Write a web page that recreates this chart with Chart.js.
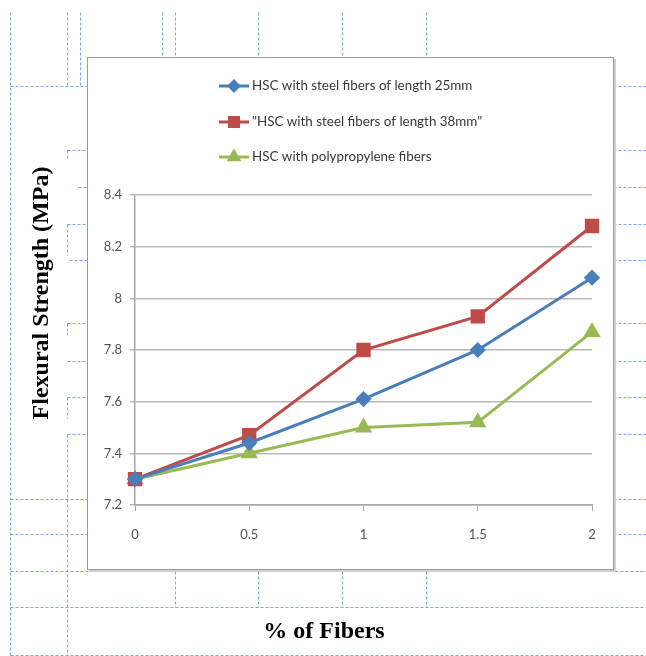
<!DOCTYPE html>
<html>
<head>
<meta charset="utf-8">
<title>Flexural Strength vs % of Fibers</title>
<script src="https://cdn.jsdelivr.net/npm/chart.js@4.4.0/dist/chart.umd.min.js"></script>
<style>
  html, body { margin: 0; padding: 0; background: #fff; }
  #wrap { position: relative; width: 646px; height: 656px; }
</style>
</head>
<body>
<div id="wrap"><canvas id="chart" width="646" height="656"></canvas></div>
<script>
// chart values
const fiberPercent = ['0', '0.5', '1', '1.5', '2'];
const steel25 = [7.30, 7.44, 7.61, 7.80, 8.08];
const steel38 = [7.30, 7.47, 7.80, 7.93, 8.28];
const polyFibers = [7.30, 7.40, 7.50, 7.52, 7.87];
const seriesNames = [
  'HSC with steel fibers of length 25mm',
  '"HSC with steel fibers of length 38mm"',
  'HSC with polypropylene fibers'
];
const yMin = 7.2, yMax = 8.4, yStep = 0.2;
const yTitle = 'Flexural Strength (MPa)';
const xTitle = '% of Fibers';

const tickFont = { family: 'Lato', size: 13 };
const tickColor = '#555555';
const axisGray = '#a6a6a6';

// the dashed blue lines of the word table behind the chart
const tableLines = [
  [10, 12, 10, 656], [67, 12, 67, 86], [80, 12, 80, 86], [10, 86, 87, 86],
  [162, 12, 162, 57], [175, 12, 175, 57], [258, 12, 258, 57], [342, 12, 342, 57], [426, 12, 426, 57],
  [613, 86, 646, 86], [613, 150, 646, 150], [613, 187, 646, 187], [613, 224, 646, 224],
  [613, 260, 646, 260], [613, 323, 646, 323], [613, 361, 646, 361], [613, 397, 646, 397],
  [613, 434, 646, 434], [613, 499, 646, 499], [613, 534, 646, 534],
  [67, 150, 87, 150], [67, 150, 67, 158], [78, 187, 87, 187], [67, 224, 87, 224], [67, 224, 67, 255],
  [69, 260, 87, 260], [67, 323, 87, 323], [67, 323, 67, 335], [67, 361, 87, 361],
  [67, 397, 87, 397], [67, 397, 67, 418], [67, 434, 87, 434], [67, 434, 67, 656],
  [10, 499, 87, 499], [10, 534, 87, 534],
  [10, 571, 646, 571], [10, 607, 646, 607], [10, 655, 646, 655],
  [175, 571, 175, 607], [258, 571, 258, 607], [342, 571, 342, 607], [426, 571, 426, 607]
];

const pageDecor = {
  id: 'pageDecor',
  beforeDraw(chart) {
    const ctx = chart.ctx;
    ctx.save();
    ctx.fillStyle = '#ffffff';
    ctx.fillRect(0, 0, chart.width, chart.height);

    ctx.strokeStyle = '#7aa7ea';
    ctx.lineWidth = 1;
    ctx.setLineDash([3, 2]);
    tableLines.forEach(l => {
      ctx.beginPath();
      ctx.moveTo(l[0] + 0.5, l[1] + 0.5);
      ctx.lineTo(l[2] + 0.5, l[3] + 0.5);
      ctx.stroke();
    });
    ctx.setLineDash([]);

    // chart frame with a soft shadow
    ctx.fillStyle = '#d0d0d0';
    ctx.fillRect(89, 59, 527, 513);
    ctx.fillStyle = '#ffffff';
    ctx.fillRect(87, 57, 526, 512);
    ctx.strokeStyle = '#9a9a9a';
    ctx.strokeRect(87.5, 57.5, 526, 512);
    ctx.restore();
  },
  afterDraw(chart) {
    const ctx = chart.ctx;
    ctx.save();

    // legend, one entry per row
    const rows = [86, 122, 157];
    chart.data.datasets.forEach((ds, i) => {
      const y = rows[i];
      ctx.strokeStyle = ds.borderColor;
      ctx.lineWidth = 3;
      ctx.beginPath();
      ctx.moveTo(219, y);
      ctx.lineTo(249, y);
      ctx.stroke();
      ctx.fillStyle = ds.pointBackgroundColor;
      ctx.strokeStyle = ds.borderColor;
      if (Chart.helpers && Chart.helpers.drawPoint) {
        Chart.helpers.drawPoint(ctx, {
          pointStyle: ds.pointStyle,
          radius: ds.pointRadius * 0.8,
          borderWidth: 1,
          rotation: 0
        }, 234, y);
      }
      ctx.fillStyle = '#383838';
      ctx.font = '13.4px Lato';
      ctx.textBaseline = 'middle';
      ctx.textAlign = 'left';
      ctx.fillText(ds.label, 252, y);
    });

    // axis titles sit outside the frame
    ctx.fillStyle = '#000000';
    ctx.font = 'bold 24px "Liberation Serif"';
    ctx.textAlign = 'center';
    ctx.textBaseline = 'middle';
    ctx.fillText(xTitle, 324, 632);
    ctx.translate(42, 293);
    ctx.rotate(-Math.PI / 2);
    ctx.fillText(yTitle, 0, 0);
    ctx.restore();
  }
};

const ctx = document.getElementById('chart').getContext('2d');

new Chart(ctx, {
  type: 'line',
  data: {
    labels: fiberPercent,
    datasets: [
      {
        label: seriesNames[0],
        data: steel25,
        borderColor: '#4a7ebb',
        pointBackgroundColor: '#4a7ebb',
        pointBorderColor: '#4a7ebb',
        pointStyle: 'rectRot',
        pointRadius: 6,
        borderWidth: 3
      },
      {
        label: seriesNames[1],
        data: steel38,
        borderColor: '#be4b48',
        pointBackgroundColor: '#be4b48',
        pointBorderColor: '#be4b48',
        pointStyle: 'rect',
        pointRadius: 8,
        borderWidth: 3
      },
      {
        label: seriesNames[2],
        data: polyFibers,
        borderColor: '#98b954',
        pointBackgroundColor: '#98b954',
        pointBorderColor: '#98b954',
        pointStyle: 'triangle',
        pointRadius: 7,
        borderWidth: 3
      }
    ]
  },
  options: {
    responsive: false,
    animation: false,
    layout: { padding: { left: 95, right: 54, top: 195, bottom: 106 } },
    elements: { line: { tension: 0 }, point: { borderWidth: 1 } },
    plugins: {
      legend: { display: false },
      tooltip: { enabled: false }
    },
    scales: {
      x: {
        offset: false,
        grid: { drawOnChartArea: false, drawTicks: true, tickLength: 6, color: axisGray },
        border: { color: axisGray, width: 1.5 },
        ticks: { color: tickColor, font: tickFont, padding: 16, maxRotation: 0 },
        afterFit: scale => { scale.height = 45; }
      },
      y: {
        min: yMin,
        max: yMax,
        grid: { color: '#b9b9b9', lineWidth: 1.5, tickLength: 5 },
        border: { color: axisGray, width: 1.5 },
        ticks: {
          stepSize: yStep,
          color: tickColor,
          font: tickFont,
          padding: 8,
          callback: v => String(Number(v.toFixed(1)))
        },
        afterFit: scale => { scale.width = 40; }
      }
    }
  },
  plugins: [pageDecor]
});
</script>
</body>
</html>
